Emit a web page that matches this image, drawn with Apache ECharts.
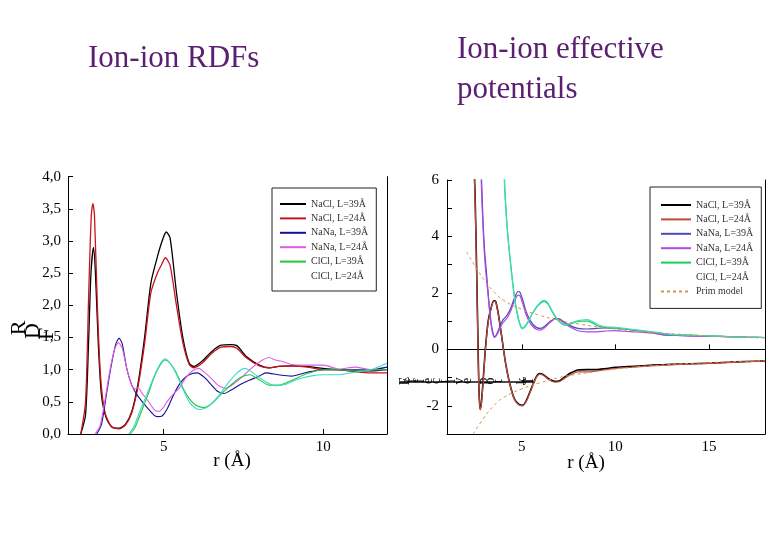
<!DOCTYPE html>
<html>
<head>
<meta charset="utf-8">
<script src="https://cdn.jsdelivr.net/npm/echarts@6/dist/echarts.min.js"></script>
<style>
  html, body { margin: 0; background: #fff; }
  #chart { width: 780px; height: 540px; }
</style>
</head>
<body>
<div id="chart"></div>
<script>
// ---- left panel: ion-ion RDFs, [r (Å), g(r)]
const rdfNaCl39 = [[2.4,0],[2.55,0.3],[2.65,1.5],[2.72,2.5],[2.8,2.9],[2.86,2.5],[2.95,1.4],[3.05,0.6],[3.2,0.25],[3.4,0.1],[3.6,0.09],[3.8,0.15],[4.0,0.35],[4.2,0.8],[4.4,1.5],[4.6,2.35],[4.8,2.75],[4.95,3.0],[5.08,3.14],[5.2,3.05],[5.4,2.2],[5.6,1.5],[5.8,1.1],[5.95,1.05],[6.2,1.13],[6.5,1.28],[6.8,1.38],[7.1,1.39],[7.3,1.37],[7.6,1.2],[8.0,1.07],[8.3,1.03],[8.6,1.05],[9.0,1.06],[9.5,1.05],[10,1.02],[10.5,1.0],[11,0.98],[11.5,0.98],[12,1.0]]
const rdfNaCl24 = [[2.4,0],[2.55,0.5],[2.65,2.2],[2.73,3.4],[2.78,3.58],[2.83,3.4],[2.92,2.0],[3.02,0.9],[3.15,0.35],[3.35,0.12],[3.6,0.08],[3.8,0.14],[4.0,0.33],[4.2,0.75],[4.4,1.4],[4.6,2.2],[4.8,2.5],[4.95,2.65],[5.05,2.74],[5.2,2.62],[5.4,2.0],[5.6,1.42],[5.8,1.08],[5.95,1.03],[6.2,1.1],[6.5,1.25],[6.8,1.35],[7.1,1.36],[7.3,1.33],[7.6,1.18],[8.0,1.06],[8.3,1.03],[8.6,1.05],[9.0,1.06],[9.5,1.04],[10,1.0],[10.5,1.0],[11,0.97],[11.5,0.95],[12,0.95]]
const rdfNaNa39 = [[2.9,0],[3.05,0.15],[3.2,0.6],[3.35,1.05],[3.5,1.4],[3.6,1.49],[3.7,1.4],[3.85,1.0],[4.0,0.76],[4.15,0.62],[4.3,0.52],[4.5,0.4],[4.7,0.29],[4.8,0.27],[4.95,0.28],[5.1,0.38],[5.3,0.6],[5.5,0.78],[5.7,0.89],[5.9,0.94],[6.05,0.95],[6.3,0.87],[6.5,0.76],[6.7,0.66],[6.9,0.63],[7.1,0.68],[7.4,0.77],[7.7,0.84],[8.0,0.9],[8.2,0.95],[8.6,0.92],[9.0,0.9],[9.5,0.96],[10,1.0],[11,1.0],[11.5,1.0],[12,1.04]]
const rdfNaNa24 = [[2.85,0],[3.0,0.12],[3.15,0.5],[3.3,0.95],[3.45,1.3],[3.58,1.42],[3.7,1.33],[3.85,1.0],[4.0,0.75],[4.1,0.7],[4.2,0.72],[4.3,0.65],[4.5,0.52],[4.7,0.38],[4.85,0.35],[5.0,0.42],[5.1,0.5],[5.3,0.62],[5.5,0.72],[5.7,0.88],[5.9,0.98],[6.1,1.02],[6.3,0.95],[6.5,0.86],[6.7,0.76],[6.95,0.71],[7.2,0.78],[7.4,0.86],[7.7,1.0],[8.0,1.12],[8.3,1.19],[8.5,1.15],[8.7,1.13],[9.0,1.08],[9.5,1.07],[10,1.07],[10.5,1.01],[11,1.04],[11.5,1.0],[12,1.0]]
const rdfClCl39 = [[3.95,0],[4.1,0.1],[4.3,0.35],[4.5,0.6],[4.7,0.88],[4.9,1.08],[5.05,1.15],[5.2,1.1],[5.4,0.95],[5.6,0.72],[5.8,0.55],[6.0,0.45],[6.25,0.41],[6.5,0.47],[6.8,0.62],[7.1,0.76],[7.4,0.88],[7.7,0.92],[8.0,0.84],[8.3,0.76],[8.6,0.76],[9.0,0.83],[9.5,0.94],[10,1.0],[10.5,1.0],[11,0.98],[11.5,1.0],[12,1.0]]
const rdfClCl24 = [[3.9,0],[4.05,0.1],[4.25,0.35],[4.5,0.65],[4.7,0.9],[4.9,1.1],[5.05,1.17],[5.2,1.1],[5.4,0.93],[5.6,0.7],[5.8,0.5],[6.0,0.4],[6.15,0.38],[6.4,0.43],[6.7,0.58],[7.0,0.78],[7.3,0.95],[7.55,1.02],[7.8,0.95],[8.1,0.84],[8.5,0.75],[8.8,0.77],[9.2,0.85],[9.6,0.9],[10,0.92],[10.4,0.92],[11,0.96],[11.5,1.0],[12,1.1]]

// ---- right panel: effective potentials, [r (Å), u/kT]
const potNaCl39 = [[2.42,7],[2.5,5.5],[2.58,3],[2.65,0.5],[2.7,-1.2],[2.76,-2.1],[2.82,-2.0],[2.92,-1.2],[3.05,0],[3.2,1.0],[3.35,1.45],[3.5,1.72],[3.6,1.7],[3.72,1.35],[3.85,0.8],[4.0,0.1],[4.15,-0.55],[4.35,-1.2],[4.6,-1.75],[4.85,-1.95],[5.05,-1.98],[5.25,-1.8],[5.5,-1.4],[5.75,-1.0],[5.95,-0.86],[6.15,-0.9],[6.45,-1.05],[6.75,-1.13],[7.0,-1.12],[7.3,-0.98],[7.6,-0.84],[8.0,-0.73],[8.5,-0.72],[9.0,-0.72],[9.5,-0.68],[10,-0.64],[11,-0.6],[12,-0.56],[13,-0.53],[14,-0.51],[15,-0.49],[16,-0.46],[17,-0.43],[18,-0.41]]
const potNaCl24 = [[2.42,7],[2.5,5.3],[2.58,2.8],[2.65,0.3],[2.7,-1.3],[2.77,-2.15],[2.83,-2.0],[2.93,-1.2],[3.05,-0.05],[3.2,0.95],[3.35,1.42],[3.5,1.7],[3.6,1.68],[3.72,1.32],[3.85,0.78],[4.0,0.08],[4.15,-0.58],[4.35,-1.22],[4.6,-1.78],[4.85,-1.97],[5.05,-2.0],[5.25,-1.83],[5.5,-1.43],[5.75,-1.03],[5.95,-0.88],[6.15,-0.92],[6.45,-1.08],[6.75,-1.16],[7.0,-1.15],[7.3,-1.02],[7.6,-0.9],[8.0,-0.8],[8.5,-0.8],[9.0,-0.77],[9.5,-0.72],[10,-0.68],[11,-0.63],[12,-0.58],[13,-0.55],[14,-0.52],[15,-0.5],[16,-0.47],[17,-0.44],[18,-0.41]]
const potNaNa39 = [[2.8,7],[2.9,5],[3.0,3.6],[3.1,2.8],[3.2,2.0],[3.3,1.27],[3.42,0.7],[3.55,0.45],[3.7,0.6],[3.85,0.85],[4.0,1.05],[4.2,1.2],[4.4,1.45],[4.6,1.8],[4.8,2.05],[4.9,2.02],[5.05,1.75],[5.2,1.4],[5.4,1.08],[5.6,0.88],[5.8,0.77],[6.0,0.74],[6.25,0.83],[6.5,0.98],[6.8,1.1],[7.0,1.08],[7.3,0.95],[7.6,0.83],[8.0,0.74],[8.5,0.72],[9.0,0.74],[9.5,0.76],[10,0.75],[10.5,0.72],[11,0.68],[11.5,0.64],[12,0.6],[12.5,0.52],[13,0.5],[14,0.48],[15,0.47],[16,0.45],[17,0.43],[18,0.42]]
const potNaNa24 = [[2.78,7],[2.88,5],[2.98,3.6],[3.08,2.7],[3.2,1.9],[3.3,1.2],[3.42,0.62],[3.55,0.42],[3.7,0.55],[3.85,0.78],[4.0,0.95],[4.2,1.1],[4.4,1.35],[4.6,1.7],[4.8,1.92],[4.9,1.9],[5.05,1.62],[5.2,1.28],[5.4,0.98],[5.6,0.8],[5.8,0.7],[6.0,0.68],[6.25,0.78],[6.5,0.95],[6.8,1.08],[7.0,1.06],[7.3,0.92],[7.6,0.78],[8.0,0.66],[8.5,0.62],[9.0,0.62],[9.5,0.65],[10,0.66],[10.5,0.64],[11,0.62],[11.5,0.6],[12,0.57],[12.5,0.52],[13,0.5],[14,0.48],[15,0.46],[16,0.45],[17,0.43],[18,0.42]]
const potClCl39 = [[4.02,7],[4.1,5.6],[4.2,4.5],[4.3,3.7],[4.45,2.75],[4.6,1.9],[4.75,1.3],[4.9,0.9],[5.02,0.75],[5.15,0.8],[5.35,1.0],[5.55,1.25],[5.8,1.5],[6.05,1.66],[6.2,1.7],[6.4,1.6],[6.65,1.3],[6.9,1.05],[7.15,0.9],[7.35,0.86],[7.6,0.9],[7.9,0.97],[8.2,1.0],[8.5,1.0],[8.8,0.93],[9.1,0.82],[9.5,0.77],[10,0.74],[10.5,0.72],[11,0.68],[11.5,0.64],[12,0.6],[13,0.52],[14,0.5],[15,0.48],[16,0.45],[17,0.43],[18,0.42]]
const potClCl24 = [[4.0,7],[4.08,5.7],[4.18,4.6],[4.28,3.8],[4.43,2.8],[4.58,1.95],[4.73,1.32],[4.88,0.9],[5.0,0.73],[5.15,0.78],[5.35,0.98],[5.55,1.25],[5.8,1.52],[6.05,1.7],[6.2,1.74],[6.4,1.64],[6.65,1.33],[6.9,1.07],[7.15,0.92],[7.35,0.88],[7.6,0.92],[7.9,1.0],[8.2,1.04],[8.5,1.05],[8.8,0.98],[9.1,0.86],[9.5,0.8],[10,0.78],[10.5,0.74],[11,0.7],[11.5,0.66],[12,0.62],[13,0.53],[14,0.5],[15,0.48],[16,0.45],[17,0.43],[18,0.42]]
const primUpper = [[2.05,3.45],[2.5,2.95],[3,2.45],[3.5,2.05],[4,1.75],[5,1.42],[6,1.2],[7,1.02],[8,0.9],[10,0.72],[12,0.6],[15,0.48],[18,0.4]]
const primLower = [[2.4,-3],[3,-2.4],[3.5,-2.0],[4,-1.72],[5,-1.4],[6,-1.18],[7,-1.0],[8,-0.88],[10,-0.7],[12,-0.58],[15,-0.47],[18,-0.4]]

const seriesNames = ['NaCl, L=39Å', 'NaCl, L=24Å', 'NaNa, L=39Å', 'NaNa, L=24Å', 'ClCl, L=39Å', 'ClCl, L=24Å']
const primName = 'Prim model'

// tick labels
const rdfXTicks = [5, 10]
const rdfYTicks = [0, 0.5, 1, 1.5, 2, 2.5, 3, 3.5, 4]
const potXTicks = [5, 10, 15]
const potYTicks = [-2, 0, 2, 4, 6]
const potYMinorTicks = [-3, -2, -1, 0, 1, 2, 3, 4, 5, 6]

const leftColors = ['#000000', '#c8141c', '#121296', '#e25ce2', '#22c83c', '#3cd8cc']
const rightColors = ['#000000', '#c0483c', '#4a4ab8', '#b246e0', '#14d25a', '#44d8c4']

const serif = "'Liberation Serif', 'DejaVu Serif', serif"
const purple = '#5b2071'
const RSUFFIX = ' #pot'

const chart = echarts.init(document.getElementById('chart'))

const line = (name, data, color, width, xi, yi, extra) => Object.assign({
  name: name,
  type: 'line',
  data: data,
  xAxisIndex: xi,
  yAxisIndex: yi,
  symbol: 'none',
  smooth: 0.25,
  silent: true,
  animation: false,
  lineStyle: { color: color, width: width },
  itemStyle: { color: color },
}, extra || {})

const rdfData = [rdfNaCl39, rdfNaCl24, rdfNaNa39, rdfNaNa24, rdfClCl39, rdfClCl24]
const potData = [potNaCl39, potNaCl24, potNaNa39, potNaNa24, potClCl39, potClCl24]

const series = []
rdfData.forEach((d, i) => series.push(line(seriesNames[i], d, leftColors[i], i < 2 ? 1.3 : 1.1, 0, 0)))
potData.forEach((d, i) => series.push(line(seriesNames[i] + RSUFFIX, d, rightColors[i], i === 0 ? 1.6 : 1.2, 1, 2)))
series.push(line(primName, primUpper, '#d9944a', 1, 1, 2, { smooth: true, lineStyle: { color: '#d9944a', width: 1, type: [3, 3] } }))
series.push(line(primName, primLower, '#d9944a', 1, 1, 2, { smooth: true, lineStyle: { color: '#d9944a', width: 1, type: [3, 3] } }))

const axisLine = { show: true, lineStyle: { color: '#000', width: 1 } }
const labelFont = { fontFamily: serif, fontSize: 15, color: '#000' }
const borderAxis = (extra) => Object.assign({
  type: 'value', min: 0, max: 1,
  axisLine: axisLine, axisTick: { show: false }, axisLabel: { show: false }, splitLine: { show: false },
}, extra)

const legendBase = {
  orient: 'vertical',
  selectedMode: false,
  backgroundColor: '#fff',
  borderColor: '#222',
  borderWidth: 1,
  itemHeight: 10,
  itemGap: 4.4,
  itemStyle: { opacity: 0 },
  textStyle: { fontFamily: serif, fontSize: 10, color: '#333', lineHeight: 10 },
  formatter: (n) => n.replace(RSUFFIX, ''),
}

const ySpell = ['R', 'D', 'F']
const potSpell = ['E', 'f', 'f', 'e', 'c', 't', 'i', 'v', 'e', ' ', 'p', 'o', 't', '.', ' ', 'k', 'T']

const graphic = [
  { type: 'text', left: 88, top: 43, style: { text: 'Ion-ion RDFs', font: '31px ' + serif, fill: purple } },
  { type: 'text', left: 457, top: 30, style: { text: 'Ion-ion effective\npotentials', font: '31px ' + serif, fill: purple, lineHeight: 40 } },
  { type: 'text', x: 232, y: 461, style: { text: 'r (Å)', font: '19px ' + serif, fill: '#000', align: 'center', verticalAlign: 'middle' } },
  { type: 'text', x: 586, y: 463, style: { text: 'r (Å)', font: '19px ' + serif, fill: '#000', align: 'center', verticalAlign: 'middle' } },
  { type: 'line', shape: { x1: 400, y1: 382, x2: 535, y2: 382 }, style: { stroke: '#111', lineWidth: 1.5 } },
]
ySpell.forEach((c, i) => graphic.push({
  type: 'text', x: 19 + i * 14, y: 328 + i * 3, rotation: Math.PI / 2,
  style: { text: c, font: '22px ' + serif, fill: '#000', align: 'center', verticalAlign: 'middle' },
}))
potSpell.forEach((c, i) => graphic.push({
  type: 'text', x: 405 + i * 7.8, y: 381, rotation: Math.PI / 2,
  style: { text: c, font: '14px ' + serif, fill: '#000', align: 'center', verticalAlign: 'middle' },
}))

const option = {
  backgroundColor: '#fff',
  animation: false,
  grid: [
    { left: 68, right: 393, top: 176.7, bottom: 106 },
    { left: 447, right: 15, top: 180, bottom: 106 },
  ],
  xAxis: [
    {
      gridIndex: 0, type: 'value', min: 2, max: 12,
      axisLine: axisLine,
      axisTick: { inside: true, length: 5, customValues: rdfXTicks, lineStyle: { color: '#000' } },
      axisLabel: Object.assign({ customValues: rdfXTicks, margin: 6 }, labelFont),
      splitLine: { show: false },
    },
    {
      gridIndex: 1, type: 'value', min: 1, max: 18,
      axisLine: axisLine,
      axisTick: { inside: true, length: 5, customValues: potXTicks, lineStyle: { color: '#000' } },
      axisLabel: Object.assign({ customValues: potXTicks, margin: 6 }, labelFont),
      splitLine: { show: false },
    },
    borderAxis({ gridIndex: 1, position: 'top' }),
  ],
  yAxis: [
    {
      gridIndex: 0, type: 'value', min: 0, max: 4,
      axisLine: axisLine,
      axisTick: { inside: true, length: 5, customValues: rdfYTicks, lineStyle: { color: '#000' } },
      minorTick: { show: true, splitNumber: 2, length: 3, lineStyle: { color: '#000' } },
      axisLabel: Object.assign({ customValues: rdfYTicks, margin: 7, formatter: (v) => v.toFixed(1).replace('.', ',') }, labelFont),
      splitLine: { show: false },
    },
    borderAxis({ gridIndex: 0, position: 'right' }),
    {
      gridIndex: 1, type: 'value', min: -3, max: 6,
      axisLine: axisLine,
      axisTick: { inside: true, length: 5, customValues: potYMinorTicks, lineStyle: { color: '#000' } },
      axisLabel: Object.assign({ customValues: potYTicks, margin: 8 }, labelFont),
      splitLine: { show: false },
    },
    borderAxis({ gridIndex: 1, position: 'right' }),
  ],
  legend: [
    Object.assign({}, legendBase, {
      left: 272, top: 188, padding: [11, 8, 10, 7], itemWidth: 26,
      data: seriesNames.map((n, i) => i === 5 ? { name: n, lineStyle: { opacity: 0 } } : { name: n }),
    }),
    Object.assign({}, legendBase, {
      left: 650, top: 187, padding: [13, 8, 12, 10], itemWidth: 30,
      data: seriesNames.map((n, i) => i === 5 ? { name: n + RSUFFIX, lineStyle: { opacity: 0 } } : { name: n + RSUFFIX }).concat([{ name: primName }]),
    }),
  ],
  graphic: graphic,
  series: series,
}

chart.setOption(option)
</script>
</body>
</html>
